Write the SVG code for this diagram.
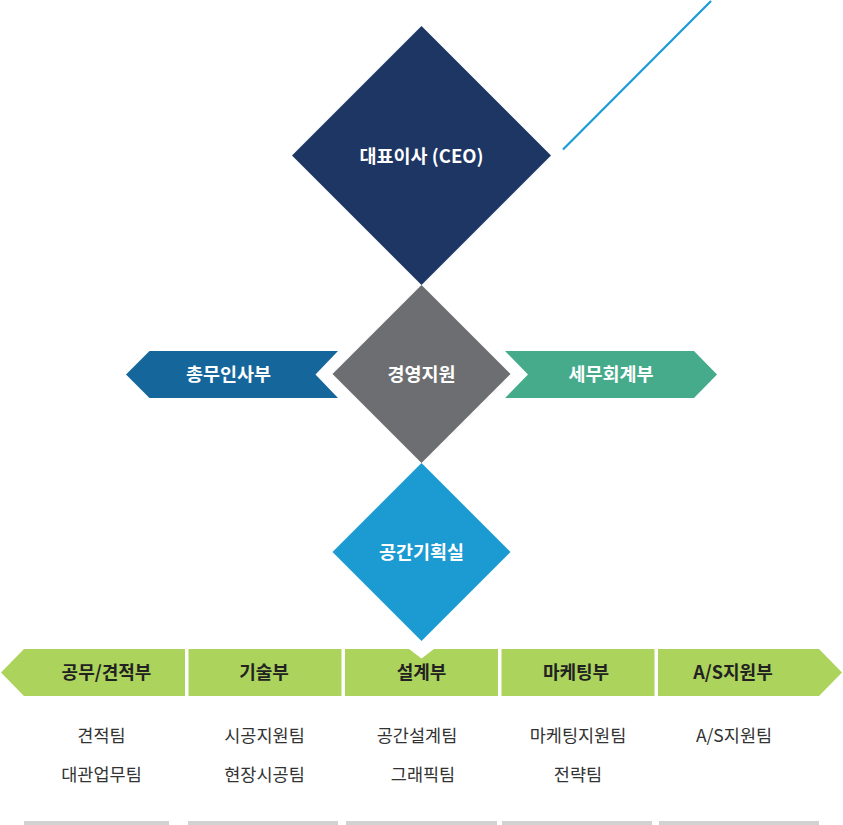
<svg xmlns="http://www.w3.org/2000/svg" width="843" height="825" viewBox="0 0 843 825">
<style>
.hd{font-family:"Noto Sans CJK KR","Noto Sans",sans-serif;font-weight:700;font-size:18.5px;text-anchor:middle;fill:#ffffff}
.gl{font-family:"Noto Sans CJK KR","Noto Sans",sans-serif;font-weight:700;font-size:18px;text-anchor:middle;fill:#222222}
.tm{font-family:"Noto Sans CJK KR","Noto Sans",sans-serif;font-weight:400;font-size:17.5px;text-anchor:middle;fill:#333333}
.seg{fill:#acd35b}
.bar{fill:#d2d2d2}
</style>
<rect width="843" height="825" fill="#ffffff"/>
<g id="connectors">
<line x1="563" y1="149.5" x2="711" y2="1" stroke="#1a9ad6" stroke-width="2.2"/>
</g>
<g id="ceo">
<polygon points="421.5,26 551,155.5 421.5,285 292,155.5" fill="#1e3663"/>
<text class="hd" x="421.5" y="162.5">대표이사 (CEO)</text>
</g>
<g id="management">
<polygon points="421.5,285 510.5,374 421.5,463 332.5,374" fill="#6d6e71"/>
<text class="hd" x="421.5" y="380.5">경영지원</text>
</g>
<g id="hr">
<polygon points="126,374.5 149.5,351 338,351 315.5,374.5 338,398 149.5,398" fill="#15669b"/>
<text class="hd" x="228.5" y="381">총무인사부</text>
</g>
<g id="accounting">
<polygon points="505,351 694,351 717,374.5 694,398 505,398 528,374.5" fill="#45ab8a"/>
<text class="hd" x="611" y="381">세무회계부</text>
</g>
<g id="planning">
<polygon points="421.5,463 510.5,552 421.5,641 332.5,552" fill="#1b9bd2"/>
<text class="hd" x="421.5" y="558.5">공간기획실</text>
</g>
<g id="dept-estimate">
<polygon class="seg" points="24,649 185,649 185,696 24,696 1,672.5"/>
<text class="gl" x="106.5" y="679">공무/견적부</text>
<text class="tm" x="101.5" y="742">견적팀</text>
<text class="tm" x="101.5" y="781">대관업무팀</text>
<rect class="bar" x="24" y="821" width="145" height="4"/>
</g>
<g id="dept-tech">
<rect class="seg" x="188.5" y="649" width="153" height="47"/>
<text class="gl" x="264" y="679">기술부</text>
<text class="tm" x="264.5" y="742">시공지원팀</text>
<text class="tm" x="264.5" y="781">현장시공팀</text>
<rect class="bar" x="188" y="821" width="150" height="4"/>
</g>
<g id="dept-design">
<polygon class="seg" points="345,649 409,649 421.5,658.5 434,649 498,649 498,696 345,696"/>
<text class="gl" x="421.5" y="679">설계부</text>
<text class="tm" x="417" y="742">공간설계팀</text>
<text class="tm" x="423" y="781">그래픽팀</text>
<rect class="bar" x="346" y="821" width="151" height="4"/>
</g>
<g id="dept-marketing">
<rect class="seg" x="501.5" y="649" width="153" height="47"/>
<text class="gl" x="576" y="679">마케팅부</text>
<text class="tm" x="578" y="742">마케팅지원팀</text>
<text class="tm" x="578" y="781">전략팀</text>
<rect class="bar" x="502" y="821" width="150" height="4"/>
</g>
<g id="dept-as">
<polygon class="seg" points="658,649 819,649 842,672.5 819,696 658,696"/>
<text class="gl" x="733" y="679">A/S지원부</text>
<text class="tm" x="734" y="742">A/S지원팀</text>
<rect class="bar" x="659" y="821" width="160" height="4"/>
</g>
</svg>
